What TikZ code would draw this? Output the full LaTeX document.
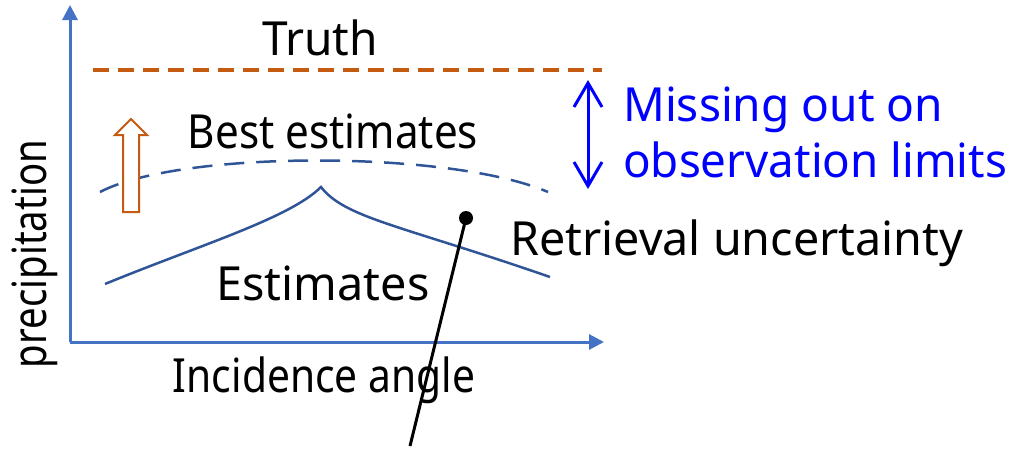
\documentclass[tikz,border=0pt]{standalone}
\usepackage{fontspec}
\usepackage{graphicx}
\setmainfont{Noto Sans}
\usetikzlibrary{arrows.meta}
\definecolor{axisblue}{HTML}{4472C4}
\definecolor{curveblue}{HTML}{2F5597}
\definecolor{truthorange}{HTML}{C55A11}
\definecolor{textblue}{HTML}{0000FF}
\newcommand{\fitw}[2]{\resizebox{#1pt}{\height}{#2}}
\begin{document}
\begin{tikzpicture}[x=1pt,y=-1pt,
  lbl/.style={font=\fontsize{47}{56}\selectfont, inner sep=0pt, anchor=base},
  axis/.style={draw=axisblue, line width=3pt, -{Triangle[length=15pt,width=15pt]}},
  curve/.style={draw=curveblue, line width=2.5pt},
  truthline/.style={draw=truthorange, line width=4pt, dash pattern=on 16pt off 9pt},
  bestline/.style={draw=curveblue, line width=2.5pt, dash pattern=on 20pt off 12pt},
  gaparrow/.style={draw=textblue, line width=3pt, {Straight Barb[length=24pt,width=28pt,line width=3pt]}-{Straight Barb[length=24pt,width=28pt,line width=3pt]}},
  pointer/.style={draw=black, line width=3pt}]
\useasboundingbox (0,0) rectangle (1015,450);
% axes
\coordinate (origin) at (70,342);
\coordinate (ytip) at (70,5);
\coordinate (xtip) at (604,342);
\draw[axis] (origin) -- (ytip);
\draw[axis] (origin) -- (xtip);
% labels
\node[lbl] (truth) at (320,55) {\fitw{116}{Truth}};
\node[lbl] (best) at (333,148) {\fitw{290}{Best estimates}};
\node[lbl] (est) at (323,300) {\fitw{213}{Estimates}};
\node[lbl, anchor=base west] (retr) at (510,255) {\fitw{453}{Retrieval uncertainty}};
\node[lbl] (inc) at (324,392) {\fitw{302}{Incidence angle}};
\node[lbl, rotate=90] (prec) at (46,254) {\fitw{228}{precipitation}};
\node[lbl, anchor=base west, text=textblue] (miss1) at (623,121) {\fitw{320}{Missing out on}};
\node[lbl, anchor=base west, text=textblue] (miss2) at (623,177) {\fitw{384}{observation limits}};
% truth line
\coordinate (t1) at (93,70);
\coordinate (t2) at (602,70);
\draw[truthline] (t1) -- (t2);
% best estimates dashed curve
\coordinate (b1) at (100,192);
\coordinate (b2) at (548,192);
\draw[bestline] (b1) .. controls (180,150) and (450,150) .. (b2);
% estimates curve
\coordinate (e1) at (105,284);
\coordinate (cusp) at (321,187);
\coordinate (e2) at (550,277);
\draw[curve] (e1) .. controls (200,245) and (290,218) .. (cusp)
  .. controls (345,218) and (400,225) .. (e2);
% gap arrow
\coordinate (g1) at (588,80);
\coordinate (g2) at (588,189);
\draw[gaparrow] (g1) -- (g2);
% orange hollow up arrow
\draw[draw=truthorange, line width=2pt, fill=white]
  (123,212) -- (139,212) -- (139,135) -- (147,135) -- (131,119) -- (115,135) -- (123,135) -- cycle;
% pointer
\node[circle, fill=black, inner sep=0pt, minimum size=14pt] (dot) at (466,218) {};
\coordinate (pend) at (410,446);
\draw[pointer] (dot.center) -- (pend);
\end{tikzpicture}
\end{document}
